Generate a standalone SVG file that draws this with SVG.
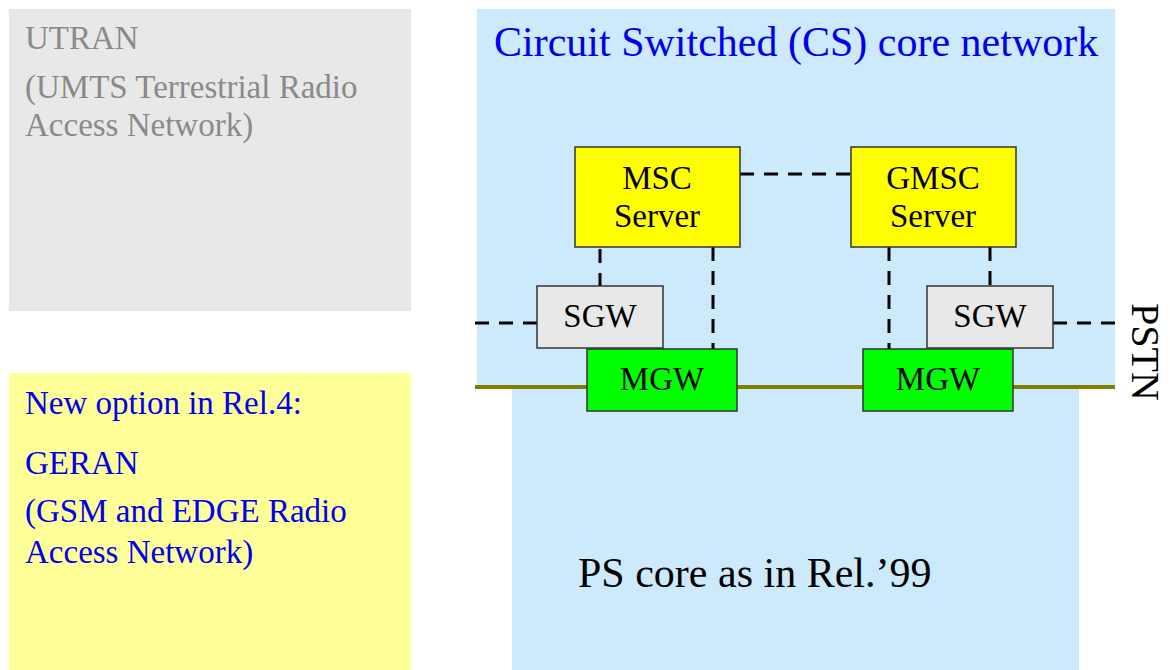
<svg xmlns="http://www.w3.org/2000/svg" width="1170" height="670" viewBox="0 0 1170 670">
<style>
text{font-family:"Liberation Serif","Times New Roman",serif}
.box{stroke:#333;stroke-width:1.5}
.lbl{font-size:33px;fill:#000;text-anchor:middle}
.dash{stroke:#000;stroke-width:3;stroke-dasharray:14,10;fill:none}
.gray{fill:#8a8a8a;font-size:33px}
.blue{fill:#0000ee;font-size:33px}
</style>
<rect width="1170" height="670" fill="#fff"/>
<g id="utran">
<rect x="9" y="9" width="402" height="302" fill="#e8e8e8"/>
<text class="gray" x="25" y="49">UTRAN</text>
<text class="gray" x="25" y="98">(UMTS Terrestrial Radio</text>
<text class="gray" x="25" y="136">Access Network)</text>
</g>
<g id="geran">
<rect x="9" y="373" width="402" height="297" fill="#ffff99"/>
<text class="blue" x="25" y="414">New option in Rel.4:</text>
<text class="blue" x="25" y="474">GERAN</text>
<text class="blue" x="25" y="522">(GSM and EDGE Radio</text>
<text class="blue" x="25" y="563">Access Network)</text>
</g>
<g id="cs-core">
<rect x="477" y="9" width="638" height="378" fill="#cceafc"/>
<text class="blue" x="494" y="56" style="font-size:42px">Circuit Switched (CS) core network</text>
</g>
<g id="ps-core">
<rect x="512" y="387" width="567" height="283" fill="#cceafc"/>
<text x="578" y="587" font-size="42" fill="#000">PS core as in Rel.’99</text>
</g>
<g id="connectors">
<line x1="475" y1="387" x2="1115" y2="387" stroke="#808000" stroke-width="4"/>
<line class="dash" x1="740" y1="174" x2="851" y2="174"/>
<line class="dash" x1="600" y1="247" x2="600" y2="286" stroke-dashoffset="-2"/>
<line class="dash" x1="713" y1="247" x2="713" y2="349"/>
<line class="dash" x1="889" y1="247" x2="889" y2="349"/>
<line class="dash" x1="990" y1="247" x2="990" y2="286"/>
<line class="dash" x1="475" y1="323" x2="537" y2="323"/>
<line class="dash" x1="1053" y1="323" x2="1115" y2="323" stroke-dasharray="14,10,14,10,3,10"/>
</g>
<g id="msc-server">
<rect class="box" x="575" y="147" width="165" height="100" fill="#ffff00"/>
<text class="lbl" x="657" y="189">MSC</text>
<text class="lbl" x="657" y="227">Server</text>
</g>
<g id="gmsc-server">
<rect class="box" x="851" y="147" width="165" height="100" fill="#ffff00"/>
<text class="lbl" x="933" y="189">GMSC</text>
<text class="lbl" x="933" y="227">Server</text>
</g>
<g id="sgw-left">
<rect class="box" x="537" y="286" width="126" height="62" fill="#e8e8e8"/>
<text class="lbl" x="600" y="327">SGW</text>
</g>
<g id="sgw-right">
<rect class="box" x="927" y="286" width="126" height="62" fill="#e8e8e8"/>
<text class="lbl" x="990" y="327">SGW</text>
</g>
<g id="mgw-left">
<rect class="box" x="587" y="349" width="150" height="62" fill="#00ff00"/>
<text class="lbl" x="662" y="390">MGW</text>
</g>
<g id="mgw-right">
<rect class="box" x="863" y="349" width="150" height="62" fill="#00ff00"/>
<text class="lbl" x="938" y="390">MGW</text>
</g>
<g id="pstn">
<text x="0" y="0" font-size="40" fill="#000" transform="translate(1132,303) rotate(90)">PSTN</text>
</g>
</svg>
